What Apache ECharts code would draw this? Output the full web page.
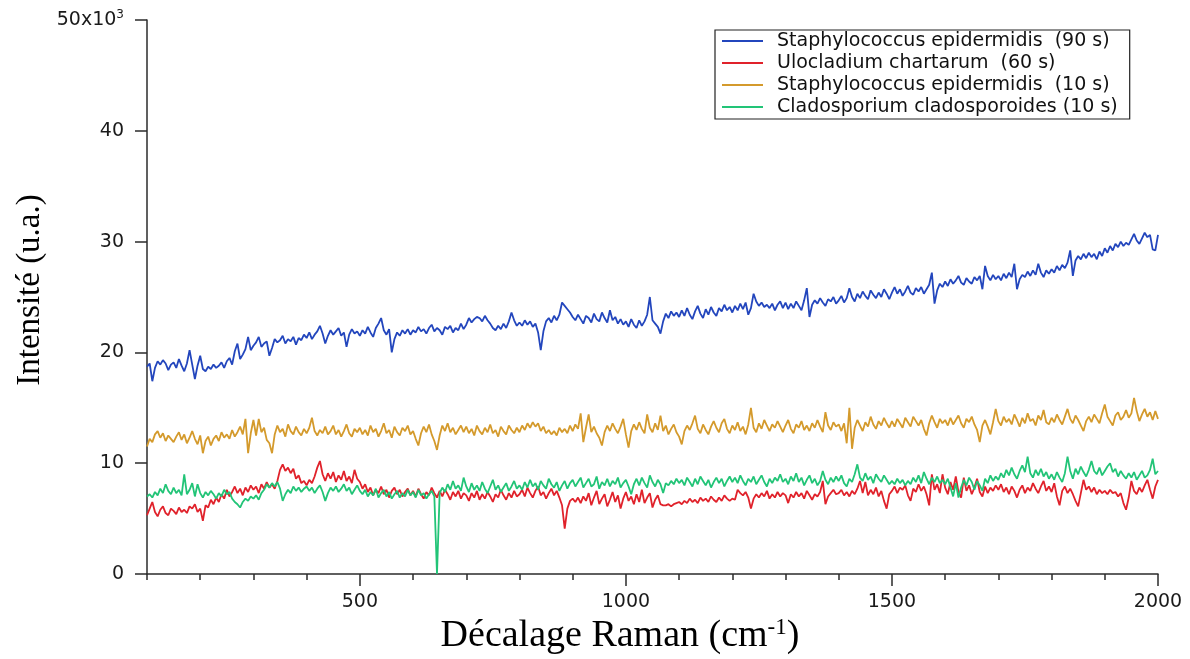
<!DOCTYPE html>
<html>
<head>
<meta charset="utf-8">
<script src="https://cdn.jsdelivr.net/npm/echarts@6/dist/echarts.min.js"></script>
<style>
  html, body { margin: 0; padding: 0; background: #ffffff; }
  #chart { width: 1190px; height: 659px; }
</style>
</head>
<body>
<div id="chart"></div>
<script>
// Raman shift sampling grid (cm-1): first point and spacing
const shiftStart = 100;
const shiftStep = 5;

// Axis ticks
const xMajorTicks = [500, 1000, 1500, 2000];
const yMax = 50;

// Series names
const seriesNames = [
  'Staphylococcus epidermidis  (90 s)',
  'Ulocladium chartarum  (60 s)',
  'Staphylococcus epidermidis  (10 s)',
  'Cladosporium cladosporoides (10 s)'
];

// Intensities in units of 10^3, one line per 100 cm-1
const staphEpi90 = [
  18.7,19.0,17.4,18.6,19.2,18.9,19.3,19.0,18.4,18.9,19.1,18.6,19.4,18.8,18.3,19.0,20.2,18.9,17.6,18.8,
  19.7,18.5,18.3,18.7,18.5,18.9,18.6,18.8,19.1,18.6,19.2,19.5,18.9,20.1,20.8,19.4,19.8,20.3,21.4,20.2,
  20.6,20.9,21.4,20.5,20.8,21.0,19.7,20.4,21.2,20.9,21.1,21.5,20.8,21.2,21.0,21.4,20.7,21.3,21.1,21.6,
  21.3,21.8,21.2,21.6,21.9,22.4,21.7,20.8,21.5,22.0,21.6,21.9,22.2,21.5,21.8,20.5,21.6,22.1,21.7,21.9,
  21.5,22.0,21.7,22.3,21.8,21.4,22.2,22.6,23.1,22.0,21.6,22.1,20.0,21.2,21.8,21.5,22.0,21.7,22.1,21.6,
  22.0,21.8,22.3,21.9,22.1,21.7,22.2,22.5,21.9,22.2,22.0,21.6,22.3,22.1,22.4,21.8,22.2,22.0,22.6,22.1,
  22.5,23.1,22.7,23.0,23.2,23.1,22.8,23.3,22.9,22.6,22.2,22.0,22.4,22.1,22.6,22.2,22.8,23.6,22.9,22.4,
  22.7,22.4,22.9,22.5,22.8,22.3,22.6,21.8,20.2,21.9,22.8,23.1,22.7,23.3,22.9,23.4,24.5,24.2,23.9,23.6,
  23.2,22.9,23.4,23.0,22.6,23.3,23.1,22.7,23.5,23.0,22.8,23.6,23.1,22.7,23.8,22.9,23.2,22.6,23.0,22.5,
  22.8,22.3,23.0,22.5,22.2,22.9,22.4,22.8,23.4,25.0,22.9,22.6,22.3,21.7,22.8,23.5,23.1,23.7,23.3,23.6,
  23.2,23.8,23.3,24.0,23.4,23.0,23.7,24.2,23.5,23.1,23.9,23.4,24.1,23.6,23.3,24.0,23.7,24.3,23.8,24.1,
  23.6,24.2,23.8,24.4,23.9,24.5,23.4,24.0,25.3,24.6,24.2,24.5,24.1,24.3,24.0,24.4,23.8,24.3,24.6,24.0,
  24.5,23.9,24.4,24.0,24.6,24.2,23.8,24.7,25.8,23.2,24.3,24.7,24.4,24.9,24.5,24.2,24.8,24.6,25.0,24.4,
  24.7,25.1,24.5,24.9,25.8,25.0,24.6,25.3,24.9,25.5,25.1,24.8,25.6,25.2,24.9,25.4,25.0,25.7,25.3,24.8,
  25.4,25.9,25.3,25.7,25.1,25.5,26.0,25.4,25.2,25.8,25.5,25.9,25.3,25.7,26.1,27.2,24.4,25.6,26.2,25.9,
  26.4,26.0,26.6,26.2,26.5,26.9,26.3,26.1,26.7,26.4,26.2,26.8,26.5,26.9,25.7,27.8,26.9,26.5,27.0,26.6,
  26.9,26.5,27.1,26.7,27.2,26.8,28.0,25.7,26.6,27.0,26.8,27.3,26.9,27.4,27.0,28.0,27.2,26.8,27.4,27.1,
  27.5,27.2,27.8,27.4,27.9,27.6,28.1,29.2,26.9,28.3,28.7,28.4,28.9,28.5,29.0,28.6,28.9,28.4,29.1,28.7,
  29.4,29.0,29.6,29.2,29.8,29.5,30.0,29.6,29.9,29.7,30.2,30.7,30.1,29.8,30.3,30.8,30.4,30.6,29.3,29.2,
  30.6
];

const ulocChart60 = [
  5.3,5.9,6.5,5.6,5.2,5.8,6.1,5.5,5.3,5.9,5.7,5.4,6.0,5.6,5.8,5.5,6.1,5.9,6.3,5.6,
  5.9,4.8,6.2,6.0,6.7,6.3,6.9,6.5,7.2,6.8,7.6,7.0,7.4,7.9,7.3,7.7,7.1,7.8,7.4,8.0,
  7.6,7.9,7.3,8.1,7.7,8.3,7.8,8.1,7.7,8.4,9.4,9.9,9.3,9.6,9.1,9.5,8.6,8.9,8.2,8.4,
  8.0,8.5,8.2,8.8,9.6,10.2,9.0,8.4,9.1,8.6,9.2,8.3,8.9,8.5,9.3,8.4,8.8,8.2,9.4,8.6,
  8.3,7.7,8.1,7.4,7.8,7.1,7.6,7.3,7.9,7.2,7.6,6.9,7.5,7.8,7.2,7.6,7.0,7.4,7.7,7.1,
  7.5,7.0,7.7,7.2,6.8,7.4,7.1,7.8,7.3,6.9,7.5,7.0,7.6,7.2,6.7,7.4,7.0,7.5,6.8,7.3,
  7.1,6.6,7.3,6.9,7.5,6.7,7.2,6.8,7.4,7.0,6.5,7.2,6.9,7.6,7.1,6.7,7.3,6.9,7.5,7.0,
  7.2,7.6,7.0,7.8,7.3,6.9,7.5,7.9,7.1,7.4,6.8,7.3,7.7,7.1,7.5,6.9,6.2,4.1,5.9,6.6,
  6.8,6.5,6.9,6.4,7.0,6.6,7.3,6.2,6.9,7.5,6.3,6.8,7.2,6.1,6.7,7.4,6.5,7.1,5.9,6.8,
  7.4,6.6,7.0,6.3,7.2,6.5,7.6,6.4,6.9,7.3,6.0,6.7,7.1,6.3,6.2,6.2,6.3,6.1,6.3,6.4,
  6.5,6.3,6.6,6.4,6.8,6.5,6.7,6.4,6.9,6.6,6.8,6.5,7.0,6.7,6.5,6.9,6.6,7.1,6.8,6.6,
  6.8,6.7,7.6,7.3,7.1,7.4,6.9,5.9,6.8,7.2,6.9,7.3,7.0,7.5,6.8,7.2,6.9,7.4,7.0,7.3,
  7.1,6.4,7.2,6.9,7.4,7.0,7.3,6.8,7.5,7.1,6.7,7.2,7.0,7.4,8.4,6.3,7.0,7.3,7.6,7.2,
  7.3,7.6,7.1,7.4,7.0,7.5,7.2,7.7,8.4,7.3,8.3,7.1,7.6,7.2,7.8,7.0,7.5,6.6,5.9,7.2,
  7.5,7.9,7.3,7.8,7.6,8.0,7.1,6.6,7.7,7.4,8.1,7.5,7.9,7.2,6.2,9.0,7.6,8.1,7.3,9.0,
  7.8,7.2,8.3,7.6,8.8,7.4,6.9,8.7,7.5,8.0,7.2,7.8,8.6,7.4,7.0,7.9,7.3,7.8,7.5,8.0,
  7.6,8.1,7.4,7.8,7.2,7.9,7.5,6.9,7.6,8.0,7.3,7.8,7.5,8.2,7.7,7.3,7.9,8.4,7.5,7.9,
  7.4,8.2,7.0,6.2,7.5,7.9,7.3,7.7,7.2,6.6,6.1,7.3,8.5,7.6,7.9,7.4,7.8,7.2,7.6,7.3,
  7.5,7.2,7.6,7.3,7.4,7.0,7.3,6.4,5.8,6.9,8.4,7.5,7.2,7.8,7.4,8.0,8.5,7.6,6.8,7.9,
  8.5
];

const staphEpi10 = [
  11.5,12.2,11.9,12.6,12.9,12.3,12.7,12.0,12.5,12.2,11.9,12.4,12.8,12.1,12.6,11.8,12.3,12.9,12.2,11.7,
  12.5,10.9,12.0,12.4,11.6,12.2,12.5,12.0,12.8,12.3,12.6,12.2,13.0,12.4,12.8,13.3,12.6,14.0,10.9,12.7,
  13.9,12.5,14.0,12.8,13.2,12.1,11.8,10.9,12.6,13.4,12.8,13.1,12.4,13.5,12.9,12.6,13.3,12.8,12.5,13.1,
  12.7,13.2,14.1,12.9,12.5,13.0,12.7,13.3,12.6,12.9,13.4,12.6,13.0,12.4,12.9,13.5,12.7,12.4,13.1,12.8,
  13.2,12.6,13.0,12.5,13.4,12.8,13.1,12.4,12.9,13.6,12.7,13.0,12.3,13.3,12.8,12.5,13.2,12.9,13.4,12.6,
  12.9,12.2,11.6,12.7,13.3,12.8,13.5,12.6,12.0,11.2,12.5,13.4,12.9,13.6,12.8,13.2,12.6,13.0,13.4,12.8,
  13.3,12.7,13.1,12.5,13.4,12.9,12.6,13.2,12.8,13.5,12.7,13.0,12.4,13.3,12.9,12.6,13.4,13.0,12.7,13.2,
  12.8,13.4,13.0,13.6,13.2,13.7,13.3,13.6,12.9,13.3,12.7,13.0,12.6,12.9,12.5,13.2,12.8,13.1,12.7,13.4,
  12.9,13.5,13.1,14.5,11.9,13.2,14.4,12.8,13.3,12.7,12.3,11.6,12.8,13.4,12.9,13.6,13.1,12.7,13.3,14.0,
  12.6,11.4,12.9,13.5,13.0,13.7,13.1,12.7,14.4,13.2,12.8,13.6,13.0,14.3,12.9,13.4,12.6,13.1,13.5,12.8,
  12.4,11.7,12.9,13.4,13.0,13.6,14.3,13.1,12.7,13.5,13.0,12.6,13.3,13.8,13.2,12.8,13.6,14.0,13.1,12.7,
  13.4,13.0,13.7,12.9,13.3,12.6,13.5,15.0,13.2,12.8,13.6,13.1,13.9,13.4,12.9,13.5,13.2,13.8,13.3,12.8,
  13.4,13.9,13.1,12.7,13.5,13.2,13.8,13.0,13.4,12.9,13.6,13.2,13.9,13.3,12.8,14.6,13.4,13.0,13.7,13.3,
  13.5,12.9,13.6,11.8,15.0,11.3,13.2,13.9,13.4,12.9,13.7,13.3,14.2,13.5,13.1,13.8,13.4,14.1,13.6,13.2,
  13.8,13.3,14.0,13.6,13.2,14.1,13.7,13.3,14.2,13.8,13.4,13.9,13.1,12.5,13.6,14.3,13.7,13.2,14.0,13.6,
  13.9,13.4,14.1,13.5,13.9,14.3,13.6,13.2,14.0,13.7,14.2,13.5,13.0,11.9,13.4,13.9,13.3,12.6,13.7,14.9,
  13.8,13.4,14.2,13.7,14.0,13.5,14.4,13.9,13.3,14.1,13.6,14.5,13.8,14.0,13.4,14.3,13.9,14.8,13.7,13.5,
  14.1,13.7,14.4,13.9,13.5,14.2,14.9,14.0,13.6,14.3,13.9,13.4,12.9,13.8,14.2,13.7,14.4,14.0,13.6,14.5,
  15.3,14.2,13.8,13.4,14.3,14.6,13.9,14.2,14.8,14.1,14.5,15.9,14.7,13.8,14.4,14.9,14.2,14.6,13.9,14.7,
  14.0
];

const cladoClado10 = [
  7.0,7.2,6.9,7.4,7.1,7.7,7.3,8.1,7.5,7.2,7.8,7.3,7.6,7.1,9.0,7.2,7.6,8.2,7.0,8.1,
  7.3,6.9,7.4,7.1,7.5,7.2,6.8,7.3,7.0,7.6,7.2,7.4,6.8,6.5,6.3,6.0,6.5,6.8,6.6,7.0,
  6.8,7.1,6.7,7.3,7.6,8.1,7.8,8.2,7.9,8.3,7.7,6.6,7.2,7.6,7.3,7.9,7.5,7.8,7.4,7.7,
  7.9,7.5,7.8,7.3,7.7,8.0,7.4,6.6,7.3,7.8,7.5,7.9,7.4,7.7,8.1,7.5,7.8,7.2,7.6,8.0,
  7.5,7.2,7.6,7.0,7.4,7.1,7.7,6.9,7.3,7.6,7.0,7.4,6.8,7.2,7.5,6.9,7.3,7.0,7.6,7.1,
  7.4,6.9,7.6,7.1,7.3,6.8,7.2,7.5,7.0,0.0,7.3,7.8,7.4,8.1,7.6,8.4,7.7,8.0,7.5,8.7,
  7.9,7.4,8.2,7.6,8.0,7.5,8.3,7.7,7.3,7.9,8.5,7.6,8.0,7.4,7.8,8.2,7.5,7.9,8.4,7.7,
  8.0,7.6,8.3,7.8,8.5,7.9,8.2,7.6,8.4,8.0,7.7,8.6,8.1,7.8,8.3,7.5,8.0,8.4,7.7,8.2,
  8.5,7.9,8.3,8.7,7.8,8.2,8.6,7.9,8.1,8.8,7.7,8.3,8.0,8.6,7.9,8.4,8.1,8.7,7.8,8.2,
  8.5,7.9,7.2,8.1,8.6,8.0,8.7,8.2,7.8,8.9,8.3,7.9,8.5,8.1,7.3,8.2,8.0,8.4,8.1,8.6,
  8.2,8.5,8.0,8.7,8.3,7.9,8.6,8.1,8.8,8.4,8.0,8.5,7.8,8.3,8.7,8.2,8.6,7.9,8.4,8.8,
  8.3,8.7,8.2,8.9,8.4,8.0,8.6,8.3,8.8,8.1,8.5,8.9,8.3,7.9,8.6,8.2,8.7,8.4,9.0,8.3,
  8.6,8.1,8.8,8.4,9.1,8.3,8.7,8.0,8.5,8.9,8.2,8.6,8.0,8.4,9.3,8.5,8.1,8.7,8.3,8.8,
  8.4,8.9,8.2,7.9,8.6,8.3,9.0,9.9,8.7,8.4,9.1,8.5,8.8,8.2,9.0,8.6,8.3,8.9,8.5,8.1,
  8.4,8.1,8.6,8.2,8.5,8.0,8.4,8.1,8.7,8.3,8.9,8.2,9.2,8.6,8.1,8.7,8.3,8.8,8.2,8.5,
  8.1,8.6,7.8,7.0,8.2,6.9,7.8,8.5,8.0,8.7,8.3,7.6,8.4,8.0,7.5,8.6,8.2,8.9,8.4,8.8,
  8.5,9.1,8.7,9.4,8.9,9.6,9.0,8.6,9.3,9.8,9.2,10.6,9.1,8.7,9.4,8.9,9.5,8.8,9.2,8.6,
  9.0,8.5,9.2,8.7,8.3,9.1,10.6,9.3,8.6,9.5,9.0,9.7,9.2,8.8,9.4,10.2,9.3,9.0,9.6,8.9,
  9.3,9.7,10.0,9.2,9.5,8.8,9.3,8.9,8.6,9.1,8.7,9.2,8.5,8.9,9.3,8.7,8.9,9.4,10.4,9.0,
  9.3
];

const seriesValues = [staphEpi90, ulocChart60, staphEpi10, cladoClado10];
const seriesColors = ['#2346bd', '#e0222b', '#d49a2c', '#22c477'];

// pair each intensity with its Raman shift on the sampling grid
const toPairs = vals => vals.map((v, i) => [shiftStart + i * shiftStep, v]);

const axisColor = '#2b2b2b';
const sansFont = '"DejaVu Sans", Verdana, sans-serif';
const serifFont = '"Liberation Serif", "Times New Roman", serif';

const chart = echarts.init(document.getElementById('chart'), null, { renderer: 'canvas' });

chart.setOption({
  animation: false,
  backgroundColor: '#ffffff',
  grid: { left: 147, right: 32, top: 20, bottom: 85, containLabel: false },
  legend: {
    orient: 'vertical',
    left: 715,
    top: 30,
    padding: [0, 12, 1, 7],
    itemGap: 0,
    itemWidth: 41,
    itemHeight: 2,
    icon: 'rect',
    borderColor: '#222',
    borderWidth: 1.2,
    borderRadius: 0,
    selectedMode: false,
    textStyle: {
      fontFamily: sansFont,
      fontSize: 19,
      color: '#111',
      lineHeight: 22,
      padding: [0, 0, 0, 9]
    },
    data: seriesNames
  },
  xAxis: [
    {
      type: 'value',
      min: 100,
      max: 2000,
      interval: 100,
      axisLine: { show: true, lineStyle: { color: axisColor, width: 1.5 } },
      axisTick: { show: true, length: 6, lineStyle: { color: axisColor, width: 1.5 } },
      axisLabel: {
        customValues: xMajorTicks,
        margin: 19,
        fontFamily: sansFont,
        fontSize: 19,
        color: '#1a1a1a',
        formatter: v => String(v)
      },
      splitLine: { show: false }
    },
    {
      type: 'value',
      min: 100,
      max: 2000,
      position: 'bottom',
      axisLine: { show: false },
      axisTick: { show: true, customValues: xMajorTicks, length: 12, lineStyle: { color: axisColor, width: 1.5 } },
      axisLabel: { show: false },
      splitLine: { show: false }
    }
  ],
  yAxis: {
    type: 'value',
    min: 0,
    max: yMax,
    interval: 10,
    axisLine: { show: true, lineStyle: { color: axisColor, width: 1.5 } },
    axisTick: { show: true, length: 12, lineStyle: { color: axisColor, width: 1.5 } },
    splitLine: { show: false },
    axisLabel: {
      margin: 23,
      fontFamily: sansFont,
      fontSize: 19,
      color: '#1a1a1a',
      formatter: v => (v === yMax ? '{m|' + v + 'x10}{p|3}' : '{m|' + v + '}'),
      rich: {
        m: { fontFamily: sansFont, fontSize: 19, color: '#1a1a1a', lineHeight: 22 },
        p: { fontFamily: sansFont, fontSize: 12, color: '#1a1a1a', verticalAlign: 'top', lineHeight: 14 }
      }
    }
  },
  graphic: [
    {
      type: 'text',
      x: 30,
      y: 290,
      rotation: Math.PI / 2,
      style: {
        text: 'Intensité (u.a.)',
        font: '33px ' + serifFont,
        fill: '#000',
        align: 'center',
        verticalAlign: 'middle'
      }
    },
    {
      type: 'text',
      x: 620,
      y: 636,
      style: {
        text: '{t|Décalage Raman (cm}{s|-1}{t|)}',
        fill: '#000',
        align: 'center',
        verticalAlign: 'middle',
        rich: {
          t: { fontFamily: serifFont, fontSize: 38, fill: '#000', lineHeight: 40 },
          s: { fontFamily: serifFont, fontSize: 23, fill: '#000', verticalAlign: 'top', lineHeight: 26 }
        }
      }
    }
  ],
  series: seriesNames.map((name, k) => ({
    name: name,
    type: 'line',
    xAxisIndex: 0,
    data: toPairs(seriesValues[k]),
    showSymbol: false,
    symbol: 'none',
    smooth: false,
    sampling: null,
    color: seriesColors[k],
    lineStyle: { color: seriesColors[k], width: 1.8 },
    emphasis: { disabled: true },
    z: 2 + k
  }))
});
</script>
</body>
</html>
